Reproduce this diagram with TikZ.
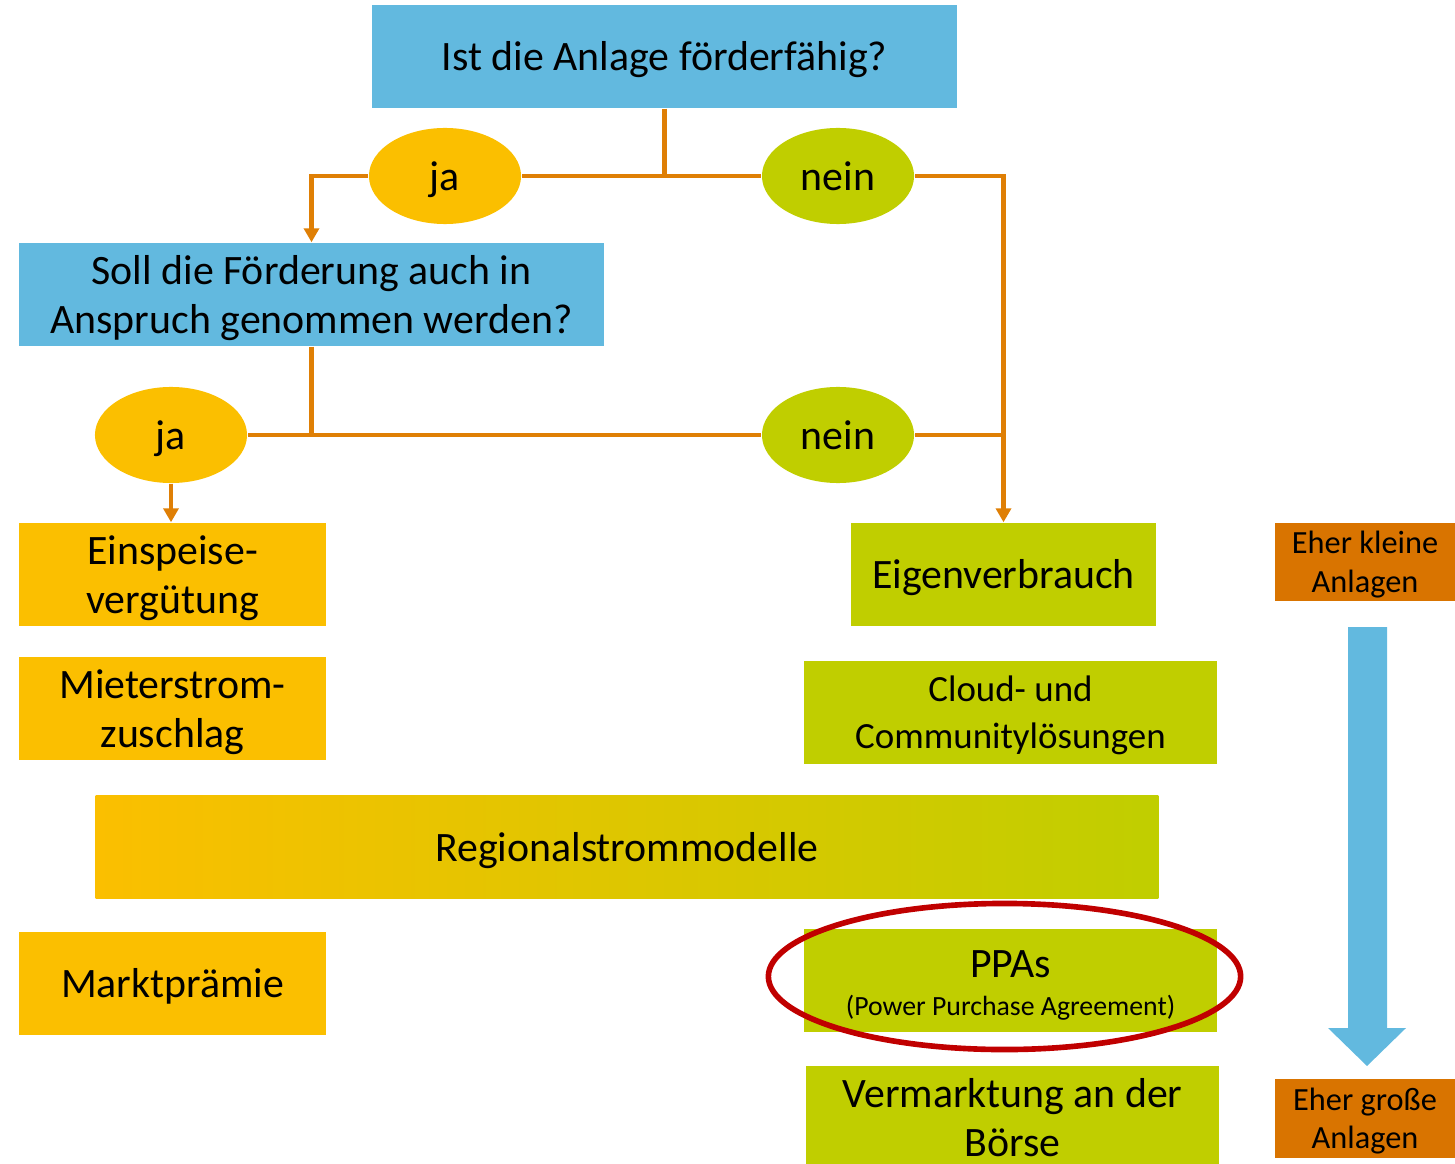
\documentclass[tikz,border=0pt]{standalone}
\usepackage{fontspec}
\setmainfont{Carlito}
\usetikzlibrary{shapes.geometric,arrows.meta}
\definecolor{boxblue}{HTML}{62B9DF}
\definecolor{jayellow}{HTML}{FBBF00}
\definecolor{neingreen}{HTML}{C0CE00}
\definecolor{lineorange}{HTML}{DF7F05}
\definecolor{sizeorange}{HTML}{D97400}
\definecolor{ringred}{HTML}{C00000}

\begin{document}
\begin{tikzpicture}[x=0.01cm, y=-0.01cm,
  one line/.style={text height=11.3pt, text depth=3.2pt},
  two lines/.style={text height=25.3pt, text depth=3.2pt},
  question/.style={rectangle, fill=boxblue, minimum width=5.85cm, minimum height=1.03cm, align=center, inner sep=0pt},
  ja node/.style={ellipse, fill=jayellow, minimum width=1.52cm, minimum height=0.96cm, inner sep=0pt, one line},
  nein node/.style={ellipse, fill=neingreen, minimum width=1.52cm, minimum height=0.96cm, inner sep=0pt, one line},
  option/.style={rectangle, minimum height=1.03cm, align=center, inner sep=0pt},
  size box/.style={rectangle, fill=sizeorange, minimum width=1.8cm, minimum height=0.78cm, align=center, inner sep=0pt, font=\fontsize{9.2}{11}\selectfont, text height=19.8pt, text depth=2.5pt},
  link/.style={draw=lineorange, line width=1.3pt},
  tip/.style={-{Triangle[width=0.15cm, length=0.14cm]}}]
           \tikzstyle{every node}=[font=\fontsize{11.9}{14}\selectfont]
           \useasboundingbox (0,0) rectangle (1455,1164);

             \node[question, one line] (q1) at (664.5,56.5) {Ist die Anlage förderfähig?};
             \node[ja node] (ja1) at (445,176) {ja};
             \node[nein node] (nein1) at (838,176) {nein};
             \node[question, two lines] (q2) at (311.5,294.5) {Soll die Förderung auch in\\Anspruch genommen werden?};
             \node[ja node] (ja2) at (171,435) {ja};
             \node[nein node] (nein2) at (838,435) {nein};

             \node[option, two lines, fill=jayellow, minimum width=3.07cm] (einsp) at (172.5,574.5) {Einspeise-\\vergütung};
             \node[option, two lines, fill=jayellow, minimum width=3.07cm] (mieter) at (172.5,708.5) {Mieterstrom-\\zuschlag};
             \node[option, one line, left color=jayellow, right color=neingreen, minimum width=10.62cm] (regio) at (627,847) {Regionalstrommodelle};
             \node[option, one line, fill=jayellow, minimum width=3.07cm] (markt) at (172.5,983.5) {Marktprämie};
             \node[option, one line, fill=neingreen, minimum width=3.05cm] (eigen) at (1003.5,574.5) {Eigenverbrauch};
             \node[option, fill=neingreen, minimum width=4.13cm, font=\fontsize{10.5}{13.2}\selectfont, text height=23.2pt, text depth=2.8pt] (cloud) at (1010.5,712.5) {Cloud- und\\Communitylösungen};
             \node[option, fill=neingreen, minimum width=4.13cm, font=\fontsize{11.9}{10.8}\selectfont, text height=22.1pt, text depth=2.1pt] (ppa) at (1010.5,980.5) {PPAs\\{\fontsize{7.9}{9}\selectfont (Power Purchase Agreement)}};
             \node[option, two lines, fill=neingreen, minimum width=4.13cm] (boerse) at (1012.5,1118) {Vermarktung an der\\Börse};

             \node[size box] (klein) at (1365,562) {Eher kleine\\Anlagen};
             \node[size box] (gross) at (1365,1118.5) {Eher große\\Anlagen};

             \coordinate (split1) at (q1.south |- ja1);
             \coordinate (split2) at (q2.south |- ja2);
             \coordinate (join) at (nein2 -| eigen.north);

             \draw[link] (q1.south) -- (split1);
             \draw[link] (ja1) -- (nein1);
             \draw[link, tip] (ja1.west) -| (q2.north);
             \draw[link, tip] (nein1.east) -| (eigen.north);
             \draw[link] (q2.south) -- (split2);
             \draw[link] (ja2) -- (nein2);
             \draw[link] (nein2.east) -- (join);
             \draw[link, tip] (ja2.south) -- (ja2.south |- einsp.north);

             \fill[boxblue] (1348,627) -- (1387,627) -- (1387,1028) -- (1406,1028) -- (1367,1066) -- (1328,1028) -- (1348,1028) -- cycle;
             \draw[ringred, line width=1.6pt] ([shift={(-6,-4)}]ppa.center) ellipse [x radius=2.36cm, y radius=0.73cm];

\end{tikzpicture}
\end{document}
